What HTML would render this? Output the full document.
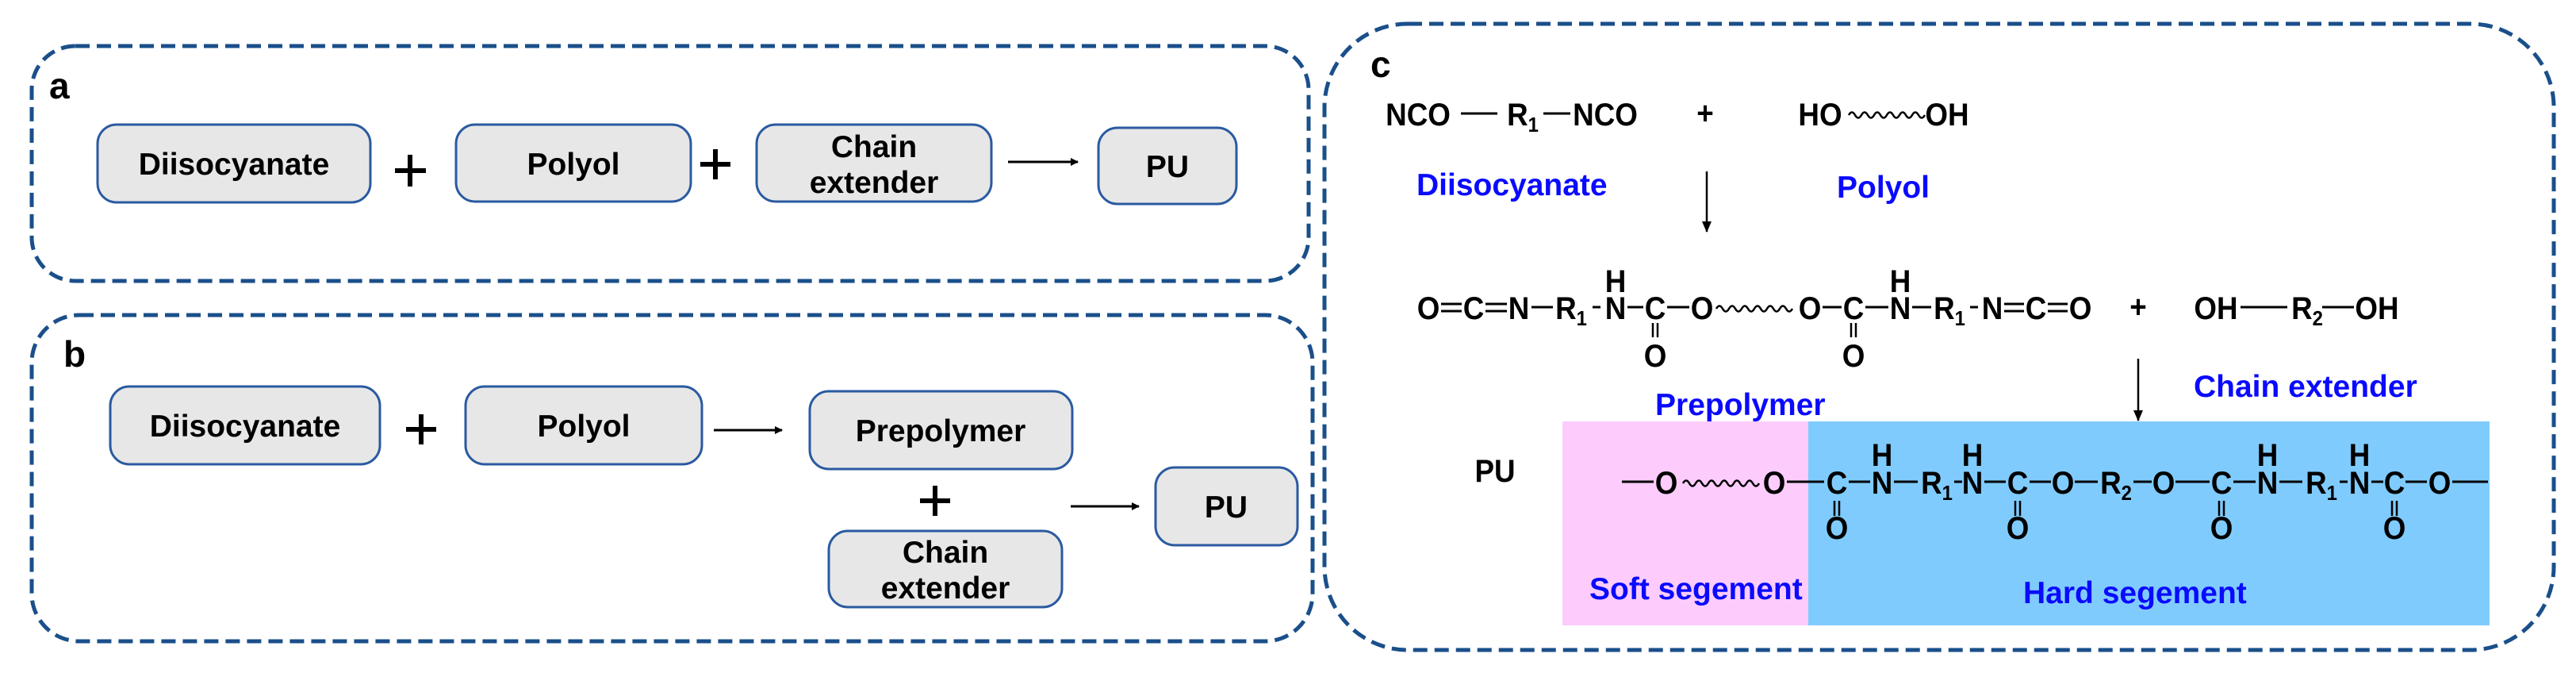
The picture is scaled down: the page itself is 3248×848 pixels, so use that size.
<!DOCTYPE html>
<html><head><meta charset="utf-8"><style>
html,body{margin:0;padding:0;background:#fff;}
svg{display:block;}
text{font-family:"Liberation Sans",sans-serif;font-weight:bold;}
.bx{font-size:39px;fill:#000;}
.c{font-size:40px;fill:#000;text-anchor:middle;}
.bl{font-size:39px;fill:#0a0aff;}
.lab{font-size:46px;fill:#000;}
</style></head><body>
<svg width="3248" height="848" viewBox="0 0 3248 848" xmlns="http://www.w3.org/2000/svg">
<defs><marker id="ah" markerWidth="10" markerHeight="10" refX="9" refY="5" orient="auto" markerUnits="userSpaceOnUse"><path d="M0,0 L10,5 L0,10 z" fill="#000"/></marker>
<marker id="ah2" markerWidth="14" markerHeight="16" refX="13" refY="8" orient="auto" markerUnits="userSpaceOnUse"><path d="M0,2 L14,8 L0,14 z" fill="#000"/></marker></defs>

<g fill="none" stroke="#1a4f8a" stroke-width="5" stroke-dasharray="18 9">
<rect x="40" y="58" width="1610" height="296" rx="55" ry="55"/>
<rect x="40" y="397" width="1615" height="411" rx="60" ry="60"/>
<rect x="1670" y="30" width="1550" height="789" rx="105" ry="105"/>
</g>
<text class="lab" x="62" y="124">a</text>
<text class="lab" x="80" y="462">b</text>
<text class="lab" x="1728" y="97">c</text>

<g fill="#e7e7e7" stroke="#2a5aa0" stroke-width="3">
<rect x="123" y="157" width="344" height="98" rx="24"/>
<rect x="575" y="157" width="296" height="97" rx="24"/>
<rect x="954" y="157" width="296" height="97" rx="24"/>
<rect x="1385" y="161" width="174" height="96" rx="24"/>
<rect x="139" y="487" width="340" height="98" rx="24"/>
<rect x="587" y="487" width="298" height="98" rx="24"/>
<rect x="1021" y="493" width="331" height="98" rx="24"/>
<rect x="1045" y="669" width="294" height="96" rx="24"/>
<rect x="1457" y="589" width="179" height="98" rx="24"/>
</g>
<g class="bx" text-anchor="middle">
<text x="295" y="220">Diisocyanate</text>
<text x="723" y="220">Polyol</text>
<text x="1102" y="198">Chain</text>
<text x="1102" y="243">extender</text>
<text x="1472" y="223">PU</text>
<text x="309" y="550">Diisocyanate</text>
<text x="736" y="550">Polyol</text>
<text x="1186" y="556">Prepolymer</text>
<text x="1192" y="709">Chain</text>
<text x="1192" y="754">extender</text>
<text x="1546" y="652">PU</text>
</g>
<g stroke="#000" stroke-width="6">
<line x1="498" y1="215" x2="537" y2="215"/><line x1="517" y1="195" x2="517" y2="235"/>
<line x1="883" y1="207" x2="921" y2="207"/><line x1="902" y1="188" x2="902" y2="226"/>
<line x1="512" y1="541" x2="550" y2="541"/><line x1="531" y1="522" x2="531" y2="560"/>
<line x1="1160" y1="631" x2="1198" y2="631"/><line x1="1179" y1="612" x2="1179" y2="650"/>
</g>
<g stroke="#000" stroke-width="3">
<line x1="1271" y1="204" x2="1359" y2="204" marker-end="url(#ah)"/>
<line x1="900" y1="542" x2="986" y2="542" marker-end="url(#ah)"/>
<line x1="1350" y1="638" x2="1436" y2="638" marker-end="url(#ah)"/>
</g>

<rect x="1970" y="531" width="310" height="257" fill="#fdccfd"/>
<rect x="2280" y="531" width="859" height="257" fill="#80cbfd"/>

<g class="c">
<text transform="translate(1788,158) scale(.92,1)">NCO</text>
<text transform="translate(1920,158) scale(.92,1)">R<tspan font-size="26" dy="8">1</tspan></text>
<text transform="translate(2024,158) scale(.92,1)">NCO</text>
<text transform="translate(2150,156) scale(.92,1)">+</text>
<text transform="translate(2295,158) scale(.92,1)">HO</text>
<text transform="translate(2455,158) scale(.92,1)">OH</text>

<text transform="translate(1801,402) scale(.92,1)">O</text>
<text transform="translate(1858,402) scale(.92,1)">C</text>
<text transform="translate(1915,402) scale(.92,1)">N</text>
<text transform="translate(1981,402) scale(.92,1)">R<tspan font-size="26" dy="8">1</tspan></text>
<text transform="translate(2037,402) scale(.92,1)">N</text>
<text transform="translate(2087,402) scale(.92,1)">C</text>
<text transform="translate(2146,402) scale(.92,1)">O</text>
<text transform="translate(2282,402) scale(.92,1)">O</text>
<text transform="translate(2337,402) scale(.92,1)">C</text>
<text transform="translate(2396,402) scale(.92,1)">N</text>
<text transform="translate(2458,402) scale(.92,1)">R<tspan font-size="26" dy="8">1</tspan></text>
<text transform="translate(2512,402) scale(.92,1)">N</text>
<text transform="translate(2567,402) scale(.92,1)">C</text>
<text transform="translate(2623,402) scale(.92,1)">O</text>
<text transform="translate(2037,368) scale(.92,1)">H</text>
<text transform="translate(2396,368) scale(.92,1)">H</text>
<text transform="translate(2087,462) scale(.92,1)">O</text>
<text transform="translate(2337,462) scale(.92,1)">O</text>
<text transform="translate(2696,400) scale(.92,1)">+</text>
<text transform="translate(2794,402) scale(.92,1)">OH</text>
<text transform="translate(2909,402) scale(.92,1)">R<tspan font-size="26" dy="8">2</tspan></text>
<text transform="translate(2997,402) scale(.92,1)">OH</text>

<text transform="translate(1885,607) scale(.92,1)">PU</text>
<text transform="translate(2101,622) scale(.92,1)">O</text>
<text transform="translate(2237,622) scale(.92,1)">O</text>
<text transform="translate(2316,622) scale(.92,1)">C</text>
<text transform="translate(2373,622) scale(.92,1)">N</text>
<text transform="translate(2442,622) scale(.92,1)">R<tspan font-size="26" dy="8">1</tspan></text>
<text transform="translate(2487,622) scale(.92,1)">N</text>
<text transform="translate(2544,622) scale(.92,1)">C</text>
<text transform="translate(2601,622) scale(.92,1)">O</text>
<text transform="translate(2668,622) scale(.92,1)">R<tspan font-size="26" dy="8">2</tspan></text>
<text transform="translate(2728,622) scale(.92,1)">O</text>
<text transform="translate(2801,622) scale(.92,1)">C</text>
<text transform="translate(2859,622) scale(.92,1)">N</text>
<text transform="translate(2927,622) scale(.92,1)">R<tspan font-size="26" dy="8">1</tspan></text>
<text transform="translate(2975,622) scale(.92,1)">N</text>
<text transform="translate(3019,622) scale(.92,1)">C</text>
<text transform="translate(3076,622) scale(.92,1)">O</text>
<text transform="translate(2373,587) scale(.92,1)">H</text>
<text transform="translate(2487,587) scale(.92,1)">H</text>
<text transform="translate(2859,587) scale(.92,1)">H</text>
<text transform="translate(2975,587) scale(.92,1)">H</text>
<text transform="translate(2316,679) scale(.92,1)">O</text>
<text transform="translate(2544,679) scale(.92,1)">O</text>
<text transform="translate(2801,679) scale(.92,1)">O</text>
<text transform="translate(3019,679) scale(.92,1)">O</text>
</g>

<g stroke="#000" stroke-width="3" fill="none">
<line x1="1842" y1="143" x2="1888" y2="143"/><line x1="1946" y1="143" x2="1980" y2="143"/>
<line x1="1817" y1="383" x2="1843" y2="383"/><line x1="1817" y1="392" x2="1843" y2="392"/>
<line x1="1873" y1="383" x2="1900" y2="383"/><line x1="1873" y1="392" x2="1900" y2="392"/>
<line x1="1931" y1="387" x2="1958" y2="387"/><line x1="2008" y1="387" x2="2018" y2="387"/>
<line x1="2052" y1="387" x2="2072" y2="387"/><line x1="2102" y1="387" x2="2130" y2="387"/>
<line x1="2298" y1="387" x2="2322" y2="387"/><line x1="2352" y1="387" x2="2381" y2="387"/>
<line x1="2411" y1="387" x2="2435" y2="387"/><line x1="2484" y1="387" x2="2494" y2="387"/>
<line x1="2527" y1="383" x2="2552" y2="383"/><line x1="2527" y1="392" x2="2552" y2="392"/>
<line x1="2582" y1="383" x2="2607" y2="383"/><line x1="2582" y1="392" x2="2607" y2="392"/>
<g stroke-width="2.5">
<line x1="2084" y1="407" x2="2084" y2="425"/><line x1="2090" y1="407" x2="2090" y2="425"/>
<line x1="2334" y1="407" x2="2334" y2="425"/><line x1="2340" y1="407" x2="2340" y2="425"/>
</g>
<line x1="2825" y1="387" x2="2884" y2="387"/><line x1="2928" y1="387" x2="2968" y2="387"/>

<line x1="2045" y1="607" x2="2085" y2="607"/><line x1="2253" y1="607" x2="2300" y2="607"/>
<line x1="2331" y1="607" x2="2358" y2="607"/><line x1="2388" y1="607" x2="2418" y2="607"/>
<line x1="2464" y1="607" x2="2474" y2="607"/><line x1="2502" y1="607" x2="2529" y2="607"/>
<line x1="2559" y1="607" x2="2586" y2="607"/><line x1="2616" y1="607" x2="2645" y2="607"/>
<line x1="2690" y1="607" x2="2713" y2="607"/><line x1="2743" y1="607" x2="2786" y2="607"/>
<line x1="2816" y1="607" x2="2844" y2="607"/><line x1="2874" y1="607" x2="2903" y2="607"/>
<line x1="2950" y1="607" x2="2960" y2="607"/><line x1="2990" y1="607" x2="3005" y2="607"/>
<line x1="3033" y1="607" x2="3060" y2="607"/><line x1="3092" y1="607" x2="3137" y2="607"/>
<g stroke-width="2.5">
<line x1="2313" y1="631" x2="2313" y2="650"/><line x1="2319" y1="631" x2="2319" y2="650"/>
<line x1="2541" y1="631" x2="2541" y2="650"/><line x1="2547" y1="631" x2="2547" y2="650"/>
<line x1="2798" y1="631" x2="2798" y2="650"/><line x1="2804" y1="631" x2="2804" y2="650"/>
<line x1="3016" y1="631" x2="3016" y2="650"/><line x1="3022" y1="631" x2="3022" y2="650"/>
</g>
<g stroke-width="2.5">
<path d="M2331 145 q4 -7 8 0 q4 7 8 0 q4 -7 8 0 q4 7 8 0 q4 -7 8 0 q4 7 8 0 q4 -7 8 0 q4 7 8 0 q4 -7 8 0 q4 7 8 0 q4 -7 8 0 q4 7 8 0"/>
<path d="M2164 389 q4 -7 8 0 q4 7 8 0 q4 -7 8 0 q4 7 8 0 q4 -7 8 0 q4 7 8 0 q4 -7 8 0 q4 7 8 0 q4 -7 8 0 q4 7 8 0 q4 -7 8 0 q4 7 8 0"/>
<path d="M2122 609 q4 -7 8 0 q4 7 8 0 q4 -7 8 0 q4 7 8 0 q4 -7 8 0 q4 7 8 0 q4 -7 8 0 q4 7 8 0 q4 -7 8 0 q4 7 8 0 q4 -7 8 0 q4 7 8 0"/>
</g>
<line x1="2152" y1="216" x2="2152" y2="292" stroke-width="2.5" marker-end="url(#ah2)"/>
<line x1="2696" y1="452" x2="2696" y2="530" stroke-width="2.5" marker-end="url(#ah2)"/>
</g>

<g class="bl">
<text x="1786" y="246">Diisocyanate</text>
<text x="2316" y="249">Polyol</text>
<text x="2766" y="500">Chain extender</text>
<text x="2087" y="523">Prepolymer</text>
<text x="2004" y="755">Soft segement</text>
<text x="2551" y="760">Hard segement</text>
</g>
</svg>
</body></html>
